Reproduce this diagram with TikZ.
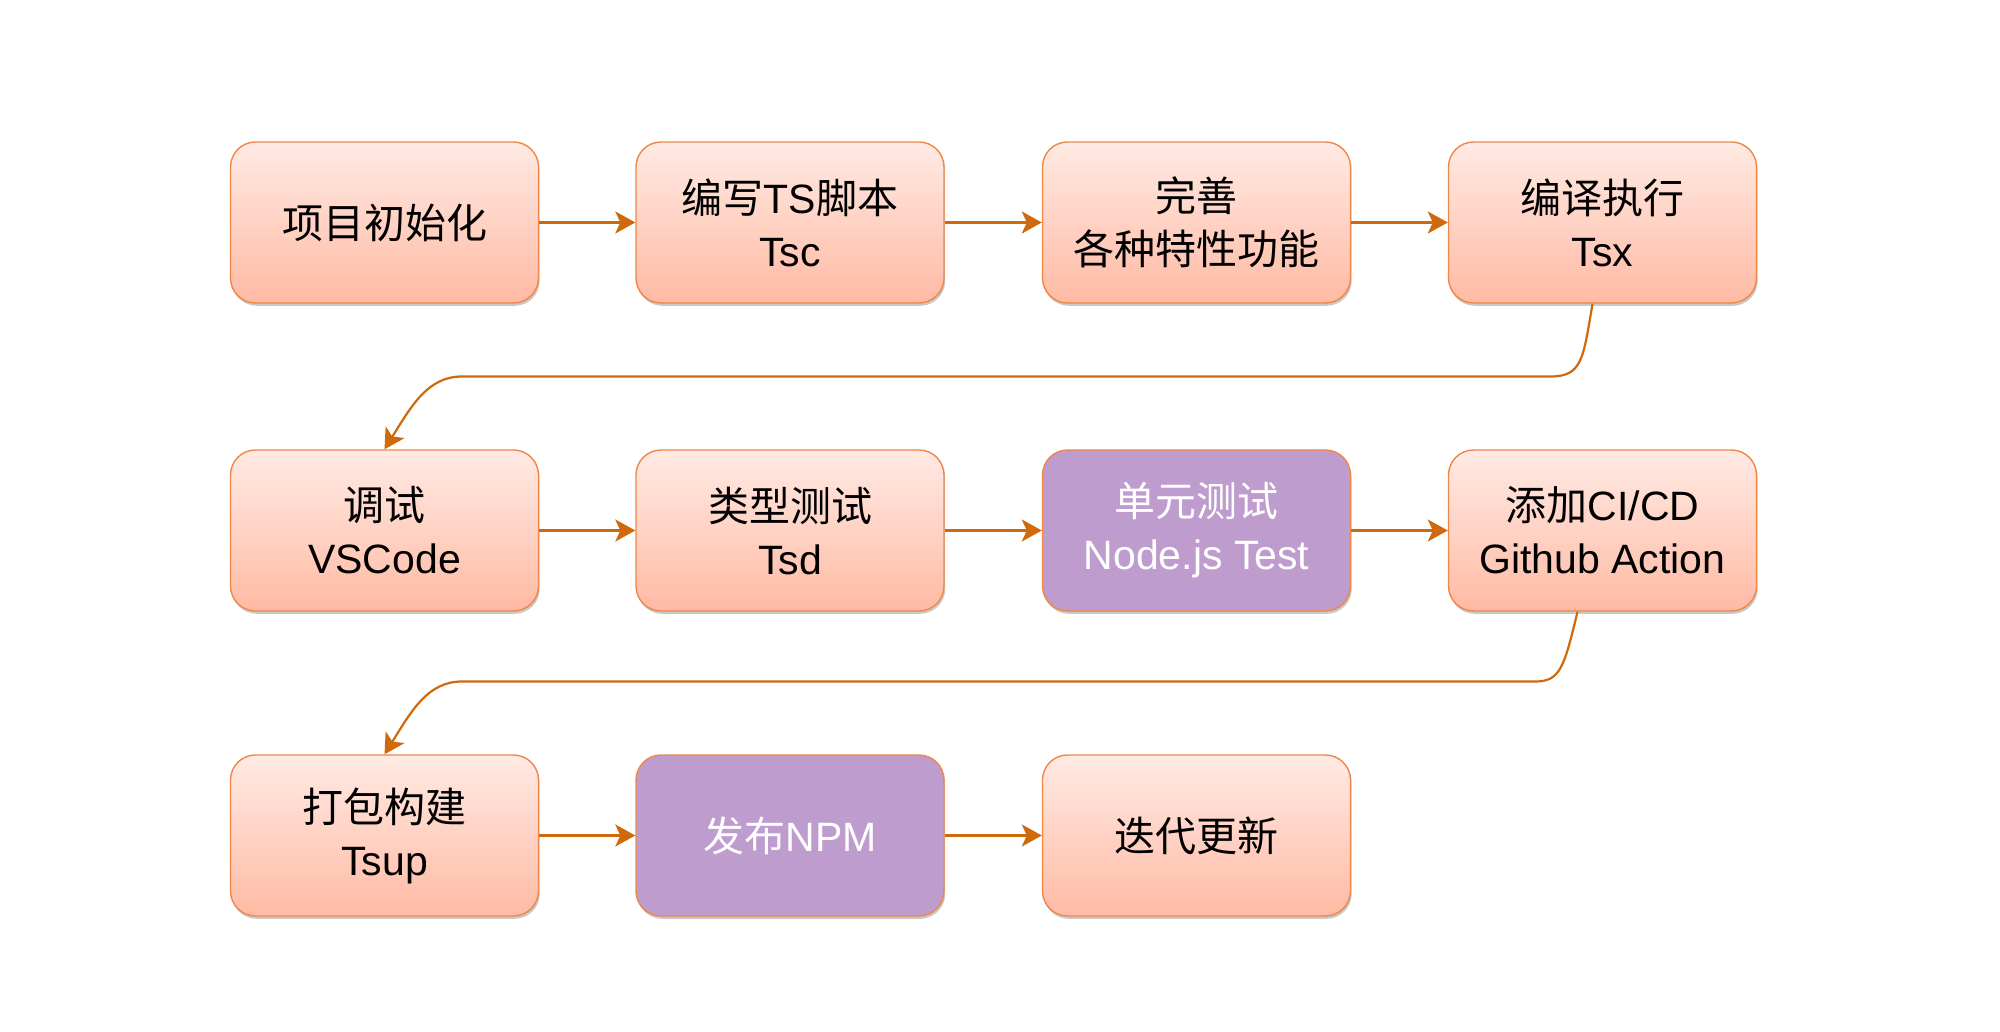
\documentclass[tikz,border=0pt]{standalone}
\usepackage{fontspec}
\setmainfont{Liberation Sans}
\newfontfamily\cjk{Noto Sans CJK SC}
\usetikzlibrary{arrows.meta,shadows}
\definecolor{boxborder}{HTML}{EE8748}
\definecolor{boxtop}{HTML}{FFEAE4}
\definecolor{boxbot}{HTML}{FFBAA4}
\definecolor{purp}{HTML}{BE9DCE}
\definecolor{arrc}{HTML}{D0690C}
\tikzset{
  stepbox/.style={rectangle, rounded corners=12.5pt, draw=boxborder, line width=0.7pt,
    minimum width=154pt, minimum height=80.5pt, inner sep=0pt, align=center,
    font=\fontsize{20.5pt}{26.5pt}\selectfont,
    top color=boxtop, bottom color=boxbot,
    drop shadow={shadow xshift=0.6pt, shadow yshift=-1.4pt, opacity=0.3, fill=black!70}},
  purpbox/.style={stepbox, top color=purp, bottom color=purp, fill=purp, text=white},
  arr/.style={draw=arrc, line width=1.1pt, -{Stealth[length=10pt,width=11pt,inset=2.5pt]}}
}
\begin{document}
\begin{tikzpicture}[x=0.5pt,y=-0.5pt]
\useasboundingbox (0,0) rectangle (2000,1032);
% row 1
\node[stepbox] (n1) at (384.5,222.5) {{\cjk 项目初始化}};
\node[stepbox] (n2) at (790,222.5) {{\cjk 编写}TS{\cjk 脚本}\\Tsc};
\node[stepbox] (n3) at (1196.5,222.5) {{\cjk 完善}\\{\cjk 各种特性功能}};
\node[stepbox] (n4) at (1602.5,222.5) {{\cjk 编译执行}\\Tsx};
% row 2
\node[stepbox] (n5) at (384.5,530.5) {{\cjk 调试}\\VSCode};
\node[stepbox] (n6) at (790,530.5) {{\cjk 类型测试}\\Tsd};
\node[purpbox] (n7) at (1196.5,530.5) {{\cjk 单元测试}\\Node.js Test};
\node[stepbox] (n8) at (1602.5,530.5) {{\cjk 添加}CI/CD\\Github Action};
% row 3
\node[stepbox] (n9) at (384.5,835.5) {{\cjk 打包构建}\\Tsup};
\node[purpbox] (n10) at (790,835.5) {{\cjk 发布}NPM};
\node[stepbox] (n11) at (1196.5,835.5) {{\cjk 迭代更新}};
% connectors
\draw[arr] (n1) -- (n2);
\draw[arr] (n2) -- (n3);
\draw[arr] (n3) -- (n4);
\draw[arr] (n5) -- (n6);
\draw[arr] (n6) -- (n7);
\draw[arr] (n7) -- (n8);
\draw[arr] (n9) -- (n10);
\draw[arr] (n10) -- (n11);
\coordinate (s1) at ([xshift=-5pt]n4.south);
\coordinate (s2) at ([xshift=-12.5pt]n8.south);
\draw[arr] (s1) .. controls (1583,360) and (1582,376.5) .. (1550,376.5)
  -- (462,376.5) .. controls (428,376.5) and (412,405) .. (n5.north);
\draw[arr] (s2) .. controls (1564,668) and (1560,681.5) .. (1535,681.5)
  -- (462,681.5) .. controls (428,681.5) and (412,710) .. (n9.north);
\end{tikzpicture}
\end{document}
